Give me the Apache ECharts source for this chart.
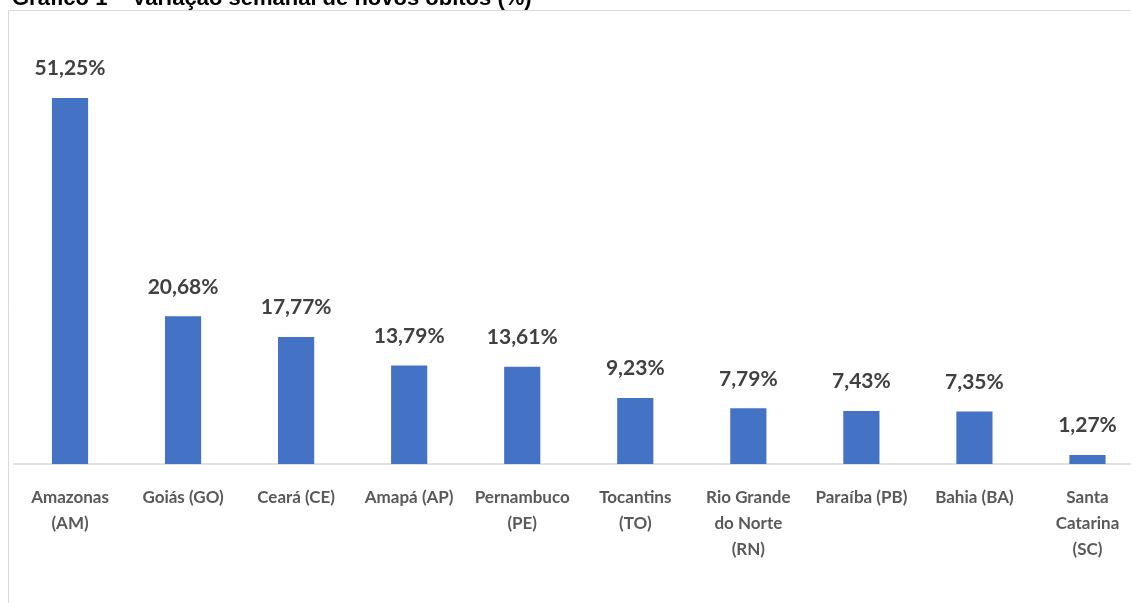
<!DOCTYPE html>
<html><head><meta charset="utf-8">
<script src="https://cdn.jsdelivr.net/npm/echarts@6/dist/echarts.min.js"></script>
<style>html,body{margin:0;padding:0;background:#fff;overflow:hidden}#c{width:1144px;height:603px}</style>
</head><body><div id="c"></div>
<script>
const categories = ['Amazonas\n(AM)','Goiás (GO)','Ceará (CE)','Amapá (AP)','Pernambuco\n(PE)','Tocantins\n(TO)','Rio Grande\ndo Norte\n(RN)','Paraíba (PB)','Bahia (BA)','Santa\nCatarina\n(SC)'];
const values = [51.25,20.68,17.77,13.79,13.61,9.23,7.79,7.43,7.35,1.27];
const titleText = 'Gráfico 1 – Variação semanal de novos óbitos (%)';

const chart = echarts.init(document.getElementById('c'));
chart.setOption({
  animation:false,
  title:{text:titleText,left:7,top:-17,textStyle:{fontFamily:'Liberation Sans',fontWeight:'bold',fontSize:22,color:'#000'}},
  graphic:[{type:'rect',shape:{x:8.5,y:10.5,width:1200,height:700},style:{fill:'none',stroke:'#d9d9d9',lineWidth:1},silent:true,z:-1}],
  grid:{left:13.5,right:0,top:35.4,bottom:139,containLabel:false},
  xAxis:{type:'category',data:categories,
    axisLine:{lineStyle:{color:'#d9d9d9',width:1.5}},axisTick:{show:false},
    axisLabel:{interval:0,margin:21,fontFamily:'Lato',fontWeight:'bold',fontSize:17,color:'#595959',lineHeight:26}},
  yAxis:{type:'value',min:0,max:60,show:false,splitLine:{show:false}},
  series:[{type:'bar',data:values,barWidth:'32%',
    itemStyle:{color:'#4472c4'},
    label:{show:true,position:'top',distance:19,fontFamily:'Lato',fontWeight:'bold',fontSize:21,color:'#404040',
      formatter:p=>p.value.toFixed(2).replace('.',',')+'%'}}]
});
</script></body></html>
